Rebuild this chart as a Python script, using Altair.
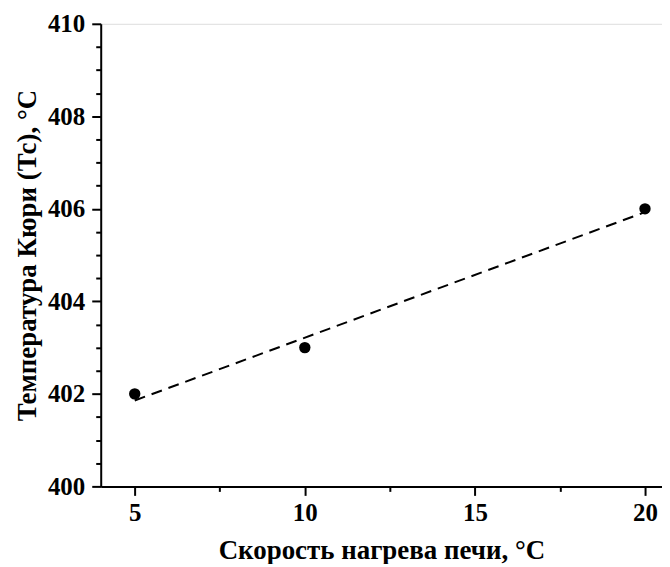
import altair as alt
import pandas as pd

# Data
heating_rate = [5, 10, 20]          # Скорость нагрева печи, °C
curie_temp = [402, 403, 406]        # Температура Кюри (Tc), °C

x_major = [5, 10, 15, 20]
x_minor = [7.5, 12.5, 17.5]
y_major = [400, 402, 404, 406, 408, 410]
y_minor = [400.5, 401, 401.5, 402.5, 403, 403.5, 404.5, 405, 405.5,
           406.5, 407, 407.5, 408.5, 409, 409.5]

df = pd.DataFrame({"x": heating_rate, "y": curie_temp})

FONT = "Liberation Serif"
x_scale = alt.Scale(domain=[4, 20.5], nice=False, zero=False)
y_scale = alt.Scale(domain=[400, 410], nice=False, zero=False)

x_axis_major = alt.Axis(
    orient="bottom", values=x_major, format="d", grid=False,
    domain=True, domainColor="black", domainWidth=2,
    ticks=True, tickColor="black", tickWidth=2, tickSize=9,
    labelFont=FONT, labelFontSize=25, labelFontWeight="bold", labelColor="black",
    labelPadding=5,
    title="Скорость нагрева печи, °C", titleFont=FONT, titleFontSize=27,
    titleFontWeight="bold", titleColor="black", titlePadding=12,
)
y_axis_major = alt.Axis(
    orient="left", values=y_major, format="d", grid=False,
    domain=True, domainColor="black", domainWidth=2,
    ticks=True, tickColor="black", tickWidth=2, tickSize=9,
    labelFont=FONT, labelFontSize=25, labelFontWeight="bold", labelColor="black",
    labelPadding=7,
    title="Температура Кюри (Тс), °C", titleFont=FONT, titleFontSize=27,
    titleFontWeight="bold", titleColor="black", titlePadding=6,
)
x_axis_minor = alt.Axis(
    orient="bottom", values=x_minor, grid=False, domain=False, labels=False,
    ticks=True, tickColor="black", tickWidth=2, tickSize=5, title=None,
)
y_axis_minor = alt.Axis(
    orient="left", values=y_minor, grid=False, domain=False, labels=False,
    ticks=True, tickColor="black", tickWidth=2, tickSize=5, title=None,
)

base = alt.Chart(df)

points = base.mark_circle(size=130, color="black", opacity=1).encode(
    x=alt.X("x:Q", scale=x_scale, axis=x_axis_major),
    y=alt.Y("y:Q", scale=y_scale, axis=y_axis_major),
)

fit = base.transform_regression("x", "y").mark_line(
    color="black", strokeWidth=2, strokeDash=[11, 7]
).encode(
    x=alt.X("x:Q", scale=x_scale, axis=x_axis_minor),
    y=alt.Y("y:Q", scale=y_scale, axis=y_axis_minor),
)

chart = alt.layer(fit, points).resolve_axis(x="independent", y="independent").properties(
    width=563, height=464,
    padding={"left": 5, "top": 3, "right": 0, "bottom": 0},
).configure_view(stroke=None).configure(background="white")

chart.save("out.html", embed_options={"renderer": "svg", "actions": False})
